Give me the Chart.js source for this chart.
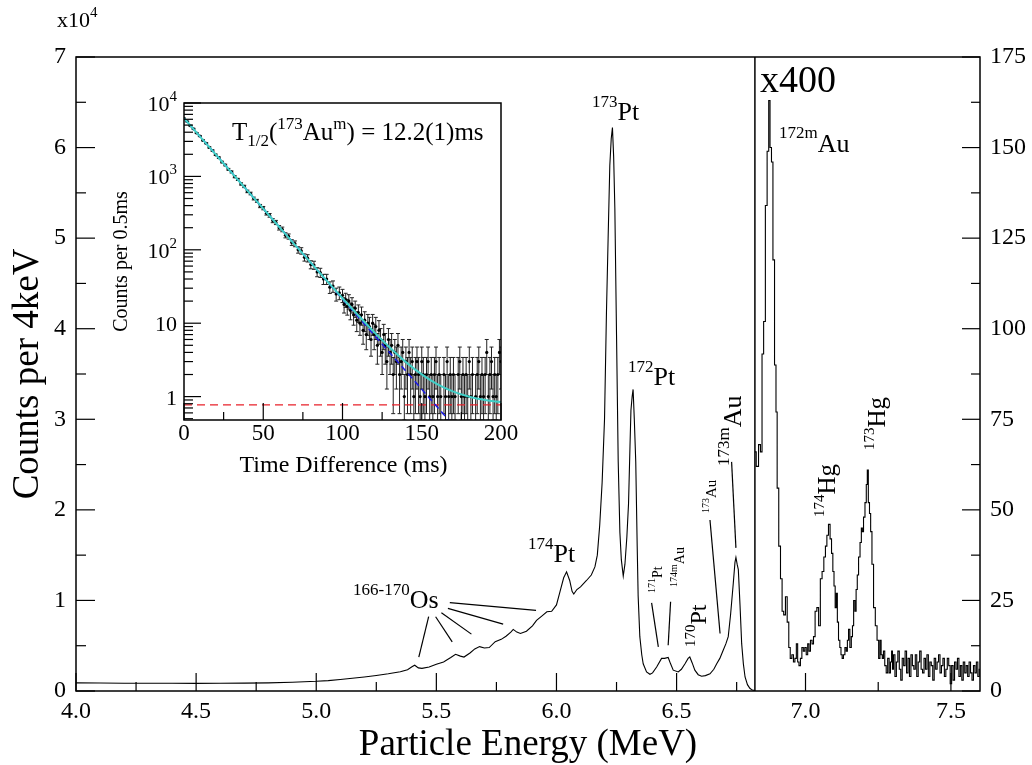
<!DOCTYPE html>
<html>
<head>
<meta charset="utf-8">
<script src="https://cdn.jsdelivr.net/npm/chart.js@4.4.0/dist/chart.umd.min.js"></script>
<style>
  body { margin: 0; background: #fff; }
  #wrap { position: relative; width: 1032px; height: 765px; }
  #main { position: absolute; left: 0; top: 0; }
  #inset { position: absolute; left: 100px; top: 80px; }
</style>
</head>
<body>
<div id="wrap">
  <canvas id="main" width="1032" height="765"></canvas>
  <canvas id="inset" width="420" height="410"></canvas>
</div>
<script>
// ---- main spectrum, left panel (counts per 4 keV) ----
const leftE = [4.00, 4.10, 4.20, 4.30, 4.40, 4.50, 4.60, 4.70, 4.80, 4.90, 5.00, 5.05, 5.10, 5.15, 5.20, 5.25, 5.30, 5.35, 5.38, 5.40,
  5.41, 5.425, 5.44, 5.47, 5.50, 5.53, 5.56, 5.58, 5.60, 5.615, 5.64, 5.66, 5.68, 5.70, 5.72, 5.745, 5.77, 5.79, 5.81, 5.82,
  5.835, 5.85, 5.875, 5.90, 5.917, 5.94, 5.96, 5.98, 6.00, 6.015, 6.03, 6.042, 6.055, 6.065, 6.072, 6.085, 6.10, 6.125, 6.145, 6.16,
  6.17, 6.18, 6.19, 6.20, 6.208, 6.215, 6.222, 6.228, 6.233, 6.238, 6.243, 6.25, 6.257, 6.264, 6.27, 6.278, 6.285, 6.293, 6.30, 6.306,
  6.31, 6.315, 6.319, 6.324, 6.33, 6.336, 6.34, 6.347, 6.355, 6.361, 6.375, 6.389, 6.40, 6.417, 6.4375, 6.45, 6.465, 6.475, 6.486, 6.507,
  6.52, 6.535, 6.548, 6.555, 6.565, 6.576, 6.59, 6.604, 6.62, 6.639, 6.655, 6.667, 6.68, 6.694, 6.705, 6.715, 6.725, 6.736, 6.743, 6.747,
  6.752, 6.757, 6.764, 6.771, 6.778, 6.785, 6.795, 6.805, 6.815, 6.826];
const leftCounts = [900, 880, 860, 850, 850, 840, 850, 870, 900, 970, 1070, 1150, 1270, 1400, 1550, 1720, 1900, 2130, 2350, 2700,
  2850, 2550, 2500, 2650, 2950, 3200, 3700, 4050, 3850, 3750, 4200, 4650, 4900, 4750, 4800, 5450, 5700, 6050, 6500, 6800,
  6500, 6350, 6600, 7200, 7800, 8300, 8750, 8800, 9500, 11000, 12500, 13160, 12200, 11000, 10700, 11200, 11500, 12200, 12800, 13700,
  15000, 18300, 23000, 30000, 41700, 50000, 58000, 61000, 62200, 59000, 53300, 39300, 25300, 17500, 14500, 12700, 14000, 17000, 20700, 27000,
  31000, 32500, 33300, 30000, 25300, 16000, 10500, 6000, 4000, 3000, 2100, 1850, 2000, 2650, 3600, 3600, 3700, 3000, 2300, 2100,
  2400, 3000, 3600, 3760, 3100, 2300, 1800, 1630, 1700, 1900, 2400, 3000, 3600, 4500, 5200, 6000, 8500, 11900, 14200, 14750,
  14000, 13400, 9500, 5200, 3000, 1550, 700, 300, 100, 50];

// ---- main spectrum, right panel (x400, counts per 4 keV) ----
const rightE = [6.826, 6.835, 6.842, 6.848, 6.853, 6.859, 6.865, 6.871, 6.876, 6.880, 6.886, 6.890, 6.897, 6.900, 6.905, 6.911, 6.917, 6.922, 6.928, 6.934,
  6.940, 6.945, 6.950, 6.956, 6.961, 6.966, 6.971, 6.975, 6.980, 6.985, 6.990, 6.995, 7.000, 7.005, 7.010, 7.014, 7.020, 7.025, 7.030, 7.036,
  7.042, 7.048, 7.054, 7.060, 7.066, 7.071, 7.076, 7.082, 7.087, 7.092, 7.096, 7.100, 7.104, 7.108, 7.111, 7.116, 7.120, 7.124, 7.128, 7.133,
  7.138, 7.142, 7.146, 7.150, 7.155, 7.160, 7.163, 7.168, 7.172, 7.176, 7.180, 7.185, 7.190, 7.194, 7.197, 7.202, 7.207, 7.211, 7.214, 7.218,
  7.222, 7.226, 7.231, 7.237, 7.243, 7.249, 7.254, 7.258, 7.262, 7.266, 7.270, 7.275, 7.280, 7.285, 7.290, 7.294, 7.298,
  7.300, 7.305, 7.310, 7.315, 7.320, 7.325, 7.330, 7.335, 7.340, 7.345, 7.350, 7.355, 7.360, 7.365, 7.370, 7.375, 7.380, 7.385, 7.390, 7.395,
  7.400, 7.405, 7.410, 7.415, 7.420, 7.425, 7.430, 7.435, 7.440, 7.445, 7.450, 7.455, 7.460, 7.465, 7.470, 7.475, 7.480, 7.485, 7.490, 7.495,
  7.500, 7.505, 7.510, 7.515, 7.520, 7.525, 7.530, 7.535, 7.540, 7.545, 7.550, 7.555, 7.560, 7.565, 7.570, 7.575, 7.580, 7.585, 7.590, 7.595, 7.600];
const rightCounts = [66, 62, 68, 66, 93, 102, 134, 149, 163, 150, 146, 119, 90, 77, 56, 40, 31, 22, 21, 26,
  19, 12, 9, 10, 8, 9, 13, 8, 7, 9, 12, 11, 12, 10, 13, 11, 14, 13, 15, 22,
  23, 18, 31, 33, 37, 40, 43, 46, 42, 38, 33, 29, 23, 27, 19, 14, 12, 10, 9, 10,
  12, 11, 14, 17, 12, 15, 18, 25, 22, 28, 32, 37, 41, 45, 44, 48, 52, 57, 61, 52,
  49, 44, 35, 23, 18, 14, 9, 14, 10, 9, 11, 7, 5, 9, 5, 8, 11,
  6, 10, 4, 8, 11, 6, 3, 9, 7, 11, 5, 9, 4, 10, 7, 6, 10, 4, 8, 11,
  6, 5, 9, 6, 10, 4, 8, 7, 3, 9, 6, 8, 10, 5, 7, 9, 4, 6, 9, 7,
  2, 7, 3, 8, 6, 9, 4, 7, 3, 8, 5, 7, 4, 8, 5, 3, 7, 5, 8, 4, 6];

// ---- inset: decay curve (counts per 0.5 ms) ----
const decayT = [0, 2, 4, 6, 8, 10, 12, 14, 16, 18, 20, 22, 24, 26, 28, 30, 32, 34, 36, 38,
  40, 42, 44, 46, 48, 50, 52, 54, 56, 58, 60, 62, 64, 66, 68, 70, 72, 74, 76, 78,
  80, 82, 84, 86, 88, 90, 92, 94, 96, 98,
  100, 101, 102, 103, 104, 105, 106, 107, 108, 109, 110, 111, 112, 113, 114, 115, 116, 117, 118, 119,
  120, 121, 122, 123, 124, 125, 126, 127, 128, 129, 130, 131, 132, 133, 134, 135, 136, 137, 138, 139,
  140, 141, 142, 143, 144, 145, 146, 147, 148, 149, 150, 151, 152, 153, 154, 155, 156, 157, 158, 159,
  160, 161, 162, 163, 164, 165, 166, 167, 168, 169, 170, 171, 172, 173, 174, 175, 176, 177, 178, 179,
  180, 181, 182, 183, 184, 185, 186, 187, 188, 189, 190, 191, 192, 193, 194, 195, 196, 197, 198, 199, 200];
const decayCounts = [6150, 5600, 4900, 4450, 3900, 3550, 3100, 2830, 2480, 2250, 1970, 1800, 1570, 1430, 1250, 1150, 990, 910, 790, 730,
  625, 585, 500, 465, 395, 370, 315, 295, 250, 236, 200, 190, 158, 152, 126, 121, 100, 97, 79, 77,
  63, 62, 50, 49, 40, 40, 31, 32, 25, 26,
  24, 18, 21, 17, 20, 15, 18, 13, 16, 11, 14, 10, 13, 8, 11, 7, 10, 9, 6, 10,
  7, 9, 5, 8, 6, 4, 7, 5, 3, 6, 4, 5, 2, 4, 3, 5, 2, 3, 4, 1,
  3, 2, 4, 2, 3, 1, 2, 3, 2, 1, 3, 2, 1, 2, 3, 1, 2, 1, 2, 3,
  1, 2, 1, 0, 2, 1, 3, 1, 2, 1, 2, 1, 0, 2, 3, 1, 2, 1, 2, 1,
  3, 1, 2, 0, 1, 2, 3, 1, 2, 1, 2, 4, 1, 2, 3, 1, 2, 1, 2, 4, 3];
// fitted curve (cyan), blue component and red background level
const fitT = [0, 10, 20, 30, 40, 50, 60, 70, 80, 90, 100, 110, 120, 130, 140, 150, 160, 170, 180, 190, 200];
const fitCounts = [6200, 3514, 1991, 1128, 640, 363, 206, 117, 66.7, 38.1, 21.9, 12.8, 7.56, 4.62, 2.95, 2.01, 1.47, 1.17, 0.995, 0.897, 0.842];
const blueT = [0, 167];
const blueCounts = [6200, 0.48];
const bgT = [0, 200];
const bgCounts = [0.77, 0.77];

const SERIF = '"Liberation Serif", "Times New Roman", serif';
const splitE = 6.826;           // where the x400 panel starts
const splitFrac = 0.751;        // share of the plot width used by the left panel
const leftMax = 4.0 + (splitE - 4.0) / splitFrac;
const rightMin = 7.6 - (7.6 - splitE) / (1 - splitFrac);

// text with super/subscripts: parts = [text, size, dy]
function rich(ctx, x, y, parts, rotate, align) {
  ctx.save();
  ctx.translate(x, y);
  if (rotate) ctx.rotate(-Math.PI / 2);
  ctx.textAlign = 'left';
  ctx.textBaseline = 'alphabetic';
  ctx.fillStyle = '#000';
  let w = 0;
  parts.forEach(p => { ctx.font = p[1] + 'px ' + SERIF; w += ctx.measureText(p[0]).width; });
  let cx = align === 'center' ? -w / 2 : align === 'right' ? -w : 0;
  parts.forEach(p => {
    ctx.font = p[1] + 'px ' + SERIF;
    ctx.fillText(p[0], cx, p[2] || 0);
    cx += ctx.measureText(p[0]).width;
  });
  ctx.restore();
}

function seg(ctx, x1, y1, x2, y2) {
  ctx.beginPath();
  ctx.moveTo(x1, y1);
  ctx.lineTo(x2, y2);
  ctx.stroke();
}

const mainDecor = {
  id: 'mainDecor',
  afterDraw(chart) {
    const { ctx, chartArea: a } = chart;
    const { x, x2, y, y2 } = chart.scales;
    ctx.save();
    ctx.strokeStyle = '#000';
    ctx.lineWidth = 1.5;
    ctx.strokeRect(a.left, a.top, a.right - a.left, a.bottom - a.top);
    const xs = x.getPixelForValue(splitE);
    seg(ctx, xs, a.top, xs, a.bottom);

    // inward ticks
    ctx.lineWidth = 1.2;
    for (let i = 0; i <= 11; i++) {
      const px = x.getPixelForValue(4.0 + i * 0.25);
      seg(ctx, px, a.bottom, px, a.bottom - (i % 2 === 0 ? 18 : 9));
    }
    [7.0, 7.25, 7.5].forEach((v, i) => {
      const px = x2.getPixelForValue(v);
      seg(ctx, px, a.bottom, px, a.bottom - (i % 2 === 0 ? 18 : 9));
    });
    for (let i = 0; i <= 14; i++) {
      const py = y.getPixelForValue(i * 5000);
      seg(ctx, a.left, py, a.left + (i % 2 === 0 ? 19 : 10), py);
    }
    for (let i = 0; i <= 14; i++) {
      const py = y2.getPixelForValue(i * 12.5);
      seg(ctx, a.right, py, a.right - (i % 2 === 0 ? 18 : 9), py);
    }

    // x tick labels
    ctx.fillStyle = '#000';
    ctx.font = '24px ' + SERIF;
    ctx.textAlign = 'center';
    [4.0, 4.5, 5.0, 5.5, 6.0, 6.5].forEach(v => ctx.fillText(v.toFixed(1), x.getPixelForValue(v), 718));
    [7.0, 7.5].forEach(v => ctx.fillText(v.toFixed(1), x2.getPixelForValue(v), 718));

    // axis titles
    rich(ctx, (a.left + a.right) / 2, 755, [['Particle Energy (MeV)', 37, 0]], false, 'center');
    rich(ctx, 38, (a.top + a.bottom) / 2, [['Counts per 4keV', 37, 0]], true, 'center');
    rich(ctx, 57, 27, [['x10', 22, 0], ['4', 15, -10]]);

    // leader lines (data coordinates: MeV, counts)
    ctx.lineWidth = 1.2;
    const L = (e1, c1, e2, c2) => seg(ctx, x.getPixelForValue(e1), y.getPixelForValue(c1), x.getPixelForValue(e2), y.getPixelForValue(c2));
    L(5.468, 8200, 5.427, 3750);
    L(5.497, 8200, 5.566, 5430);
    L(5.521, 8640, 5.646, 6280);
    L(5.548, 9120, 5.778, 7380);
    L(5.556, 9750, 5.915, 8900);
    L(6.396, 9730, 6.424, 4870);
    L(6.475, 9850, 6.465, 5060);
    L(6.639, 18880, 6.681, 6350);
    L(6.729, 25300, 6.747, 15800);

    // peak labels
    rich(ctx, 592, 120, [['173', 17, -13], ['Pt', 26, 0]]);
    rich(ctx, 628, 385, [['172', 17, -13], ['Pt', 26, 0]]);
    rich(ctx, 528, 562, [['174', 17, -13], ['Pt', 26, 0]]);
    rich(ctx, 353, 608, [['166-170', 17, -13], ['Os', 26, 0]]);
    rich(ctx, 779, 152, [['172m', 17, -14], ['Au', 26, 0]]);
    rich(ctx, 760, 92, [['x400', 38, 0]]);
    rich(ctx, 835, 517, [['174', 15, -11], ['Hg', 25, 0]], true);
    rich(ctx, 885, 450, [['173', 15, -11], ['Hg', 25, 0]], true);
    rich(ctx, 706, 647, [['170', 15, -11], ['Pt', 24, 0]], true);
    rich(ctx, 662, 593, [['171', 10, -7], ['Pt', 14, 0]], true);
    rich(ctx, 684, 587, [['174m', 10, -7], ['Au', 14, 0]], true);
    rich(ctx, 716, 513, [['173', 10, -7], ['Au', 15, 0]], true);
    rich(ctx, 741, 466, [['173m', 17, -12], ['Au', 26, 0]], true);
    ctx.restore();
  }
};

new Chart(document.getElementById('main'), {
  type: 'line',
  data: {
    datasets: [
      {
        data: leftE.map((e, i) => ({ x: e, y: leftCounts[i] })),
        xAxisID: 'x', yAxisID: 'y',
        borderColor: '#000', borderWidth: 1.1, pointRadius: 0, tension: 0
      },
      {
        data: rightE.map((e, i) => ({ x: e, y: rightCounts[i] })),
        xAxisID: 'x2', yAxisID: 'y2',
        borderColor: '#000', borderWidth: 1.1, pointRadius: 0, stepped: 'middle'
      }
    ]
  },
  options: {
    responsive: false,
    animation: false,
    events: [],
    layout: { padding: { top: 57, left: 0, right: 0, bottom: 0 } },
    plugins: { legend: { display: false }, tooltip: { enabled: false } },
    scales: {
      x: {
        type: 'linear', min: 4.0, max: leftMax,
        grid: { display: false }, border: { display: false }, ticks: { display: false },
        afterFit: s => { s.height = 74; }
      },
      x2: { type: 'linear', min: rightMin, max: 7.6, display: false },
      y: {
        min: 0, max: 70000,
        ticks: { stepSize: 10000, callback: v => v / 10000, font: { family: SERIF, size: 24 }, color: '#000', padding: 10 },
        grid: { display: false, drawTicks: false }, border: { display: false },
        afterFit: s => { s.width = 76; }
      },
      y2: {
        position: 'right', min: 0, max: 175,
        ticks: { stepSize: 25, font: { family: SERIF, size: 24 }, color: '#000', padding: 10 },
        grid: { display: false, drawTicks: false }, border: { display: false },
        afterFit: s => { s.width = 52; }
      }
    }
  },
  plugins: [mainDecor]
});

// ---- inset ----
const insetDecor = {
  id: 'insetDecor',
  beforeDraw(chart) {
    const { ctx, chartArea: a } = chart;
    ctx.save();
    ctx.fillStyle = '#fff';
    ctx.fillRect(a.left, a.top, a.right - a.left, a.bottom - a.top);
    ctx.restore();
  },
  beforeDatasetsDraw(chart) {
    const { ctx, chartArea: a } = chart;
    const { x, y } = chart.scales;
    ctx.save();
    ctx.beginPath();
    ctx.rect(a.left, a.top, a.right - a.left, a.bottom - a.top);
    ctx.clip();
    ctx.strokeStyle = '#222';
    ctx.lineWidth = 1;
    decayT.forEach((t, i) => {
      const c = decayCounts[i];
      if (c <= 0) return;
      const err = Math.sqrt(c);
      const px = x.getPixelForValue(t);
      const top = y.getPixelForValue(c + err);
      const bot = y.getPixelForValue(Math.max(c - err, y.min));
      seg(ctx, px, top, px, bot);
      seg(ctx, px - 2, top, px + 2, top);
      seg(ctx, px - 2, bot, px + 2, bot);
    });
    ctx.restore();
  },
  afterDraw(chart) {
    const { ctx, chartArea: a } = chart;
    const { x, y } = chart.scales;
    ctx.save();
    ctx.strokeStyle = '#000';
    ctx.lineWidth = 1.5;
    ctx.strokeRect(a.left, a.top, a.right - a.left, a.bottom - a.top);
    ctx.lineWidth = 1.2;
    for (let i = 0; i <= 8; i++) {
      const px = x.getPixelForValue(i * 25);
      seg(ctx, px, a.bottom, px, a.bottom - (i % 2 === 0 ? 17 : 8));
    }
    for (let e = -1; e <= 4; e++) {
      for (let k = 1; k <= 9; k++) {
        const v = k * Math.pow(10, e);
        if (v < y.min || v > y.max) continue;
        const py = y.getPixelForValue(v);
        seg(ctx, a.left, py, a.left + (k === 1 ? 17 : 9), py);
      }
    }
    ctx.fillStyle = '#000';
    ctx.font = '23px ' + SERIF;
    ctx.textAlign = 'center';
    [0, 50, 100, 150, 200].forEach(v => ctx.fillText(String(v), x.getPixelForValue(v), 360));
    const yl = [[1, [['1', 22, 0]]], [10, [['10', 22, 0]]], [100, [['10', 22, 0], ['2', 15, -10]]],
      [1000, [['10', 22, 0], ['3', 15, -10]]], [10000, [['10', 22, 0], ['4', 15, -10]]]];
    yl.forEach(([v, parts]) => rich(ctx, a.left - 7, y.getPixelForValue(v) + 8, parts, false, 'right'));
    rich(ctx, (a.left + a.right) / 2 + 1, 392, [['Time Difference (ms)', 24, 0]], false, 'center');
    rich(ctx, 27, (a.top + a.bottom) / 2, [['Counts per 0.5ms', 20, 0]], true, 'center');
    rich(ctx, 132, 60, [['T', 25, 0], ['1/2', 17, 6], ['(', 25, 0], ['173', 17, -11], ['Au', 25, 0], ['m', 17, -11], [') = 12.2(1)ms', 25, 0]]);
    ctx.restore();
  }
};

new Chart(document.getElementById('inset'), {
  type: 'line',
  data: {
    datasets: [
      {
        data: fitT.map((t, i) => ({ x: t, y: fitCounts[i] })),
        borderColor: '#40d0c8', borderWidth: 2, pointRadius: 0, cubicInterpolationMode: 'monotone', order: 0
      },
      {
        data: blueT.map((t, i) => ({ x: t, y: blueCounts[i] })),
        borderColor: '#1a1ae6', borderWidth: 1.5, borderDash: [6, 4], pointRadius: 0, order: 1
      },
      {
        data: bgT.map((t, i) => ({ x: t, y: bgCounts[i] })),
        borderColor: '#e8202a', borderWidth: 1.2, borderDash: [8, 5], pointRadius: 0, order: 2
      },
      {
        data: decayT.map((t, i) => ({ x: t, y: decayCounts[i] > 0 ? decayCounts[i] : null })),
        showLine: false, pointRadius: 1.6, pointBackgroundColor: '#000', pointBorderWidth: 0, order: 3
      }
    ]
  },
  options: {
    responsive: false,
    animation: false,
    events: [],
    layout: { padding: { top: 23, right: 19, left: 0, bottom: 0 } },
    plugins: { legend: { display: false }, tooltip: { enabled: false } },
    scales: {
      x: {
        type: 'linear', min: 0, max: 200,
        grid: { display: false }, border: { display: false }, ticks: { display: false },
        afterFit: s => { s.height = 70; }
      },
      y: {
        type: 'logarithmic', min: 0.48, max: 10000,
        grid: { display: false }, border: { display: false }, ticks: { display: false },
        afterFit: s => { s.width = 84; }
      }
    }
  },
  plugins: [insetDecor]
});
</script>
</body>
</html>
